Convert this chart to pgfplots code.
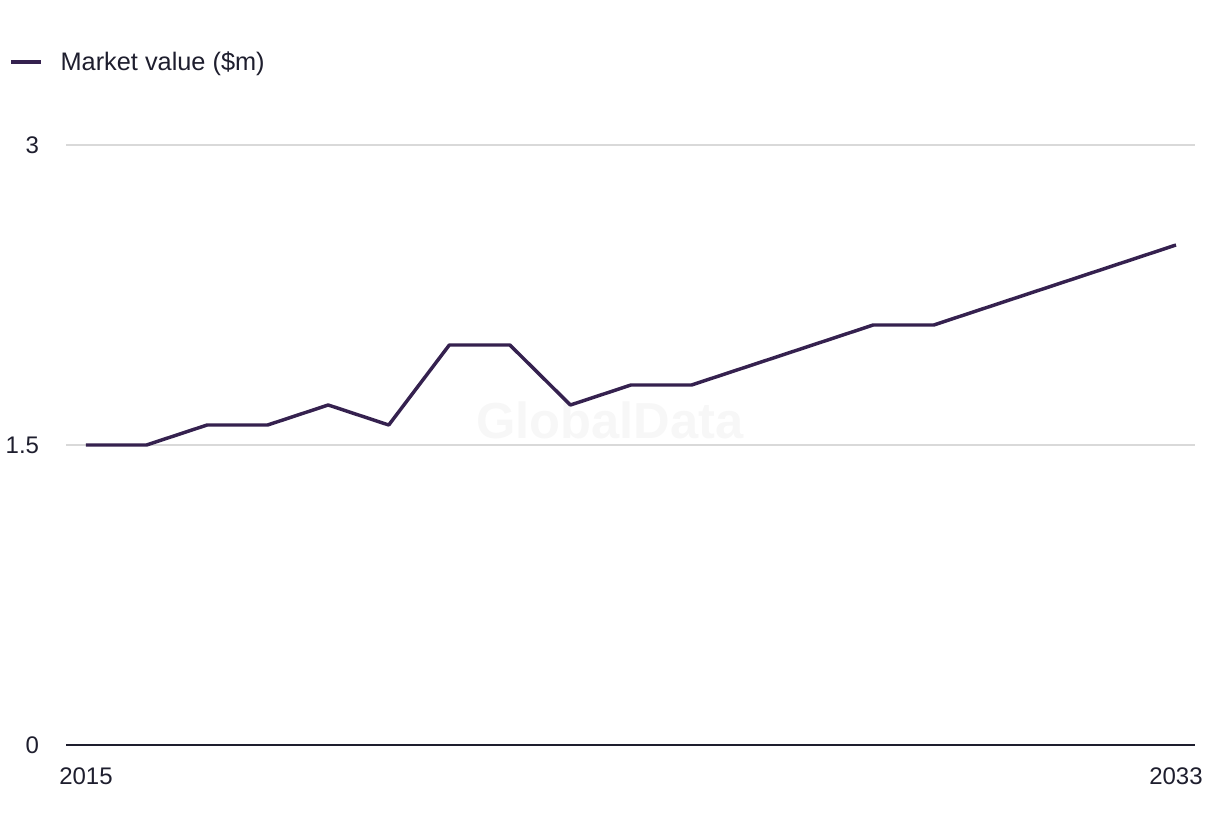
\documentclass[border=0pt]{standalone}
\usepackage{pgfplots}
\pgfplotsset{compat=1.18}
\usepackage{fontspec}
\setmainfont{Liberation Sans}
\definecolor{linecol}{HTML}{35214F}
\definecolor{txtcol}{HTML}{1E1E2E}
\definecolor{gridcol}{HTML}{D9D9D9}
\definecolor{wmcol}{HTML}{F7F7F7}
\begin{document}
\begin{tikzpicture}
\begin{axis}[
  at={(0pt,0pt)}, anchor=south west,
  scale only axis, width=846.75pt, height=450pt,
  xmin=2014.670, xmax=2033.314,
  ymin=0, ymax=3,
  xtick={2015,2033}, xticklabels={2015,2033},
  ytick={0,1.5,3}, yticklabels={0,1.5,3},
  major tick length=0pt,
  axis x line*=bottom,
  axis y line*=left,
  x axis line style={draw=txtcol, line width=1.5pt},
  y axis line style={draw=none},
  ymajorgrids,
  grid style={draw=gridcol, line width=1pt},
  tick label style={font=\fontsize{18}{21}\selectfont, text=txtcol, inner sep=0pt},
  xticklabel style={anchor=north, yshift=-17pt},
  yticklabel style={anchor=east, xshift=-20pt},
  clip=false,
  legend style={draw=none, fill=none, inner sep=0pt, outer sep=0pt,
    at={(axis description cs:-0.0505,1.1383)}, anchor=west,
    font=\fontsize{19}{22}\selectfont, text=txtcol,
    nodes={inner sep=0pt}, column sep=13pt},
  legend image code/.code={\draw[line width=3.2pt, linecol] (0pt,0pt) -- (22.5pt,0pt);},
]
\node[text=wmcol, font=\bfseries\fontsize{38}{40}\selectfont] at (axis cs:2023.65,1.625) {GlobalData};
\addplot[linecol, line width=2.6pt, line join=round] coordinates {
(2015,1.5) (2016,1.5) (2017,1.6) (2018,1.6) (2019,1.7) (2020,1.6)
(2021,2.0) (2022,2.0) (2023,1.7) (2024,1.8) (2025,1.8) (2026,1.9)
(2027,2.0) (2028,2.1) (2029,2.1) (2030,2.2) (2031,2.3) (2032,2.4) (2033,2.5)
};
\addlegendentry{Market value (\$m)}
\end{axis}
\path[use as bounding box] (-49.5pt,-68.25pt) rectangle (865.5pt,558.75pt);
\end{tikzpicture}
\end{document}
